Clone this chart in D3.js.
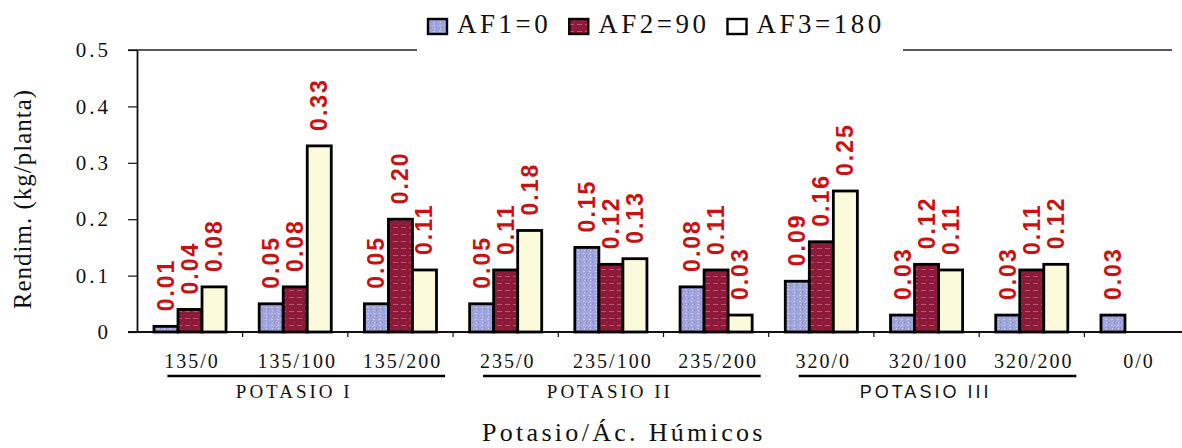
<!DOCTYPE html>
<html><head><meta charset="utf-8">
<script src="https://cdn.jsdelivr.net/npm/d3@7"></script>
<style>body{margin:0;background:#fff}svg{display:block}</style>
</head><body>
<svg id="chart" width="1182" height="448"></svg>
<script>
// ---- data ----
const categories = ["135/0","135/100","135/200","235/0","235/100","235/200","320/0","320/100","320/200","0/0"];
const seriesNames = ["AF1=0","AF2=90","AF3=180"];
const af1 = [0.01,0.05,0.05,0.05,0.15,0.08,0.09,0.03,0.03,0.03];
const af2 = [0.04,0.08,0.20,0.11,0.12,0.11,0.16,0.12,0.11,null];
const af3 = [0.08,0.33,0.11,0.18,0.13,0.03,0.25,0.11,0.12,null];
const yTickValues = [0,0.1,0.2,0.3,0.4,0.5];
const yTickLabels = ["0","0.1","0.2","0.3","0.4","0.5"];
const groupNames = ["POTASIO I","POTASIO II","POTASIO III"];
const groupFirst = [0,3,6];
const groupLast = [2,5,8];
const yTitle = "Rendim. (kg/planta)";
const xTitle = "Potasio/Ác. Húmicos";

// ---- setup ----
const svg = d3.select("#chart");
const serif = "'Liberation Serif','Times New Roman',serif";
const sans = "'Liberation Sans',Arial,sans-serif";
const series = [af1, af2, af3];

const defs = svg.append("defs");
const pb = defs.append("pattern").attr("id","pBlue").attr("patternUnits","userSpaceOnUse").attr("width",6).attr("height",6);
pb.append("rect").attr("width",6).attr("height",6).attr("fill","#9fa4dc");
pb.append("rect").attr("x",1).attr("y",1).attr("width",2).attr("height",1).attr("fill","#c9ccf0");
pb.append("rect").attr("x",4).attr("y",3).attr("width",1).attr("height",2).attr("fill","#878ccd");
pb.append("rect").attr("x",2).attr("y",4).attr("width",1).attr("height",1).attr("fill","#d4d6f4");
const pr = defs.append("pattern").attr("id","pRed").attr("patternUnits","userSpaceOnUse").attr("width",8).attr("height",7);
pr.append("rect").attr("width",8).attr("height",7).attr("fill","#8e1a3a");
pr.append("rect").attr("x",1).attr("y",3).attr("width",5).attr("height",1).attr("fill","#b85474");
pr.append("rect").attr("x",6).attr("y",0).attr("width",1).attr("height",1).attr("fill","#a0304e");
const fills = ["url(#pBlue)","url(#pRed)","#fbfbdc"];
const legendFills = ["url(#pBlue)","url(#pRed)","#ffffff"];

const x0 = d3.scaleBand().domain(categories).range([137.4, 1189.6]).paddingInner(0).paddingOuter(0);
const bw = x0.bandwidth();
const groupW = bw * 0.685;
const x1 = d3.scaleBand().domain(seriesNames).range([0, groupW]).padding(0);
const y = d3.scaleLinear().domain([0, 0.5]).range([332, 50]);

// top frame line
svg.append("line").attr("x1",128).attr("x2",1172).attr("y1",y(0.5)).attr("y2",y(0.5))
  .attr("stroke","#222").attr("stroke-width",1.6);

// y axis
const yAxis = d3.axisLeft(y).tickValues(yTickValues).tickSize(9).tickSizeOuter(0).tickPadding(17)
  .tickFormat((d,i) => yTickLabels[i]);
const gy = svg.append("g").attr("transform",`translate(137,0)`).call(yAxis);
gy.select(".domain").attr("stroke","#111").attr("stroke-width",1.8);
gy.selectAll(".tick line").attr("stroke","#111").attr("stroke-width",1.2);
gy.selectAll(".tick text").attr("font-family",serif).attr("font-size",21).attr("letter-spacing",3)
  .attr("fill","#111");

// x axis labels
const xAxis = d3.axisBottom(x0).tickSize(0).tickPadding(0).tickSizeOuter(0);
const gx = svg.append("g").attr("transform",`translate(2,${y(0)})`).call(xAxis);
gx.select(".domain").remove();
gx.selectAll(".tick text").attr("font-family",serif).attr("font-size",20).attr("letter-spacing",2)
  .attr("fill","#111").attr("dy",null).attr("y",36);

// x axis line and boundary ticks
svg.append("line").attr("x1",128).attr("x2",1182).attr("y1",y(0)).attr("y2",y(0))
  .attr("stroke","#111").attr("stroke-width",1.8);
svg.append("g").selectAll("line").data(categories.slice(1)).join("line")
  .attr("x1",d=>x0(d)).attr("x2",d=>x0(d)).attr("y1",y(0)).attr("y2",y(0)+5)
  .attr("stroke","#111").attr("stroke-width",1.2);

// bars
const barData = [];
categories.forEach((c,i) => series.forEach((s,k) => {
  if (s[i] !== null) barData.push({cat:c, ser:seriesNames[k], k, v:s[i]});
}));
svg.append("g").selectAll("rect").data(barData).join("rect")
  .attr("x", d => x0(d.cat) + (bw - groupW)/2 + x1(d.ser))
  .attr("y", d => y(d.v))
  .attr("width", x1.bandwidth())
  .attr("height", d => y(0) - y(d.v))
  .attr("fill", d => fills[d.k])
  .attr("stroke","#000").attr("stroke-width",2.8);

// value labels
svg.append("g").selectAll("text").data(barData).join("text")
  .attr("transform", d => `translate(${x0(d.cat) + (bw - groupW)/2 + x1(d.ser) + x1.bandwidth()/2},${y(d.v) - 15}) rotate(-90)`)
  .attr("text-anchor","start").attr("dominant-baseline","central")
  .attr("font-family",sans).attr("font-weight","bold").attr("font-size",23).attr("letter-spacing",2)
  .attr("fill","#cc1010")
  .text(d => d.v.toFixed(2));

// group underlines and labels
groupNames.forEach((g,i) => {
  const xs = x0(categories[groupFirst[i]]) + 30;
  const xe = x0(categories[groupLast[i]]) + bw - 8;
  svg.append("line").attr("x1",xs).attr("x2",xe).attr("y1",376).attr("y2",376)
    .attr("stroke","#000").attr("stroke-width",2.6);
  const isSans = i === 2;
  svg.append("text").attr("x",(xs+xe)/2 - 12).attr("y",398).attr("text-anchor","middle")
    .attr("font-family", isSans ? sans : serif).attr("font-size", isSans ? 18 : 19)
    .attr("letter-spacing",3).attr("fill","#111").text(g);
});

// axis titles
svg.append("text").attr("x",482).attr("y",441).attr("font-family",serif).attr("font-size",26)
  .attr("letter-spacing",3.3).attr("fill","#111").text(xTitle);
svg.append("text").attr("transform","translate(31,199) rotate(-90)").attr("text-anchor","middle")
  .attr("font-family",serif).attr("font-size",25).attr("letter-spacing",1).attr("fill","#111").text(yTitle);

// legend
const lg = svg.append("g");
lg.append("rect").attr("x",417).attr("y",0).attr("width",486).attr("height",56).attr("fill","#fff");
let lx = 428;
seriesNames.forEach((n,k) => {
  lg.append("rect").attr("x",lx).attr("y",19).attr("width",19).attr("height",15)
    .attr("fill",legendFills[k]).attr("stroke","#000").attr("stroke-width",2.4);
  const t = lg.append("text").attr("x",lx+29).attr("y",33).attr("font-family",serif).attr("font-size",27)
    .attr("letter-spacing",3.5).attr("fill","#111").text(n);
  lx += 29 + t.node().getComputedTextLength() + 18;
});
</script>
</body></html>
